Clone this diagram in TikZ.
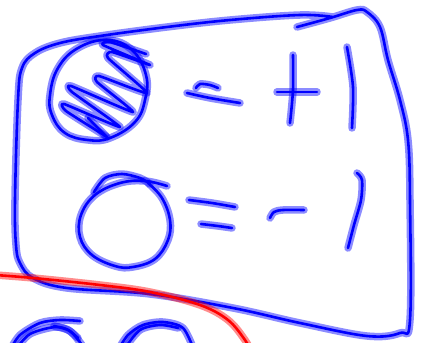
\documentclass[tikz,border=0pt]{standalone}
\begin{document}
\begin{tikzpicture}[x=1pt,y=-1pt,
  pen/.style={draw=blue, line width=2.6pt, line cap=round, line join=round,
    preaction={draw=blue, draw opacity=0.45, line width=7.5pt, line cap=round, line join=round}},
  redpen/.style={draw=red, line width=2.6pt, line cap=round, line join=round,
    preaction={draw=red, draw opacity=0.45, line width=7.5pt, line cap=round, line join=round}}]
\useasboundingbox (0,0) rectangle (421,343);
% main frame
\draw[pen] plot[smooth, tension=0.6] coordinates {
  (333,17) (300,15) (230,20) (167,27) (100,36) (60,43) (35,53) (22,68) (18,100)
  (15,200) (16,245) (20,263) (33,278) (67,288) (150,294) (233,308) (300,323)
  (367,336) (400,333) (410,320) (410,200) (408,140) (400,100) (388,60) (380,27)
  (367,12) (357,10) (330,18) (297,27)};
% hatched circle
\draw[pen] plot[smooth cycle, tension=0.7] coordinates {
  (107,40) (132,50) (146,75) (145,100) (135,122) (110,138) (88,140) (65,133)
  (52,115) (50,95) (58,68) (78,48)};
\draw[pen] plot[smooth, tension=0.3] coordinates {
  (107,137) (66,111) (64,104) (120,127) (72,92) (71,86) (133,112) (97,82)
  (99,76) (147,93) (108,58) (112,52) (150,65) (103,45) (110,42) (146,54)};
\draw[pen] (88,118) -- (106,136);
% = +1
\draw[pen] plot[smooth] coordinates {(196,88) (200,84) (210,85) (218,88)};
\draw[pen] plot[smooth] coordinates {(187,93) (210,98) (240,103)};
\draw[pen] plot[smooth] coordinates {(293,55) (293,90) (290,123)};
\draw[pen] (277,92) -- (317,92);
\draw[pen] plot[smooth] coordinates {(347,47) (353,87) (352,128)};
% lower circle
\draw[pen] plot[smooth, tension=0.65] coordinates {
  (167,186) (145,181) (120,183) (95,195) (81,215) (80,237) (92,255) (115,266)
  (133,267) (155,259) (168,240) (170,220) (162,198) (148,183)};
\draw[pen] plot[smooth] coordinates {(94,192) (105,178) (122,174) (140,178) (150,184)};
% = -1
\draw[pen] plot[smooth] coordinates {(189,200) (212,203) (235,207)};
\draw[pen] plot[smooth] coordinates {(201,224) (218,226) (232,228)};
\draw[pen] plot[smooth] coordinates {(270,218) (274,212) (283,210) (304,210)};
\draw[pen] plot[smooth] coordinates {(357,173) (362,180) (361,200) (354,225) (348,248)};
% red curve
\draw[redpen] plot[smooth, tension=0.6] coordinates {
  (-5,275) (33,278) (100,285) (150,292) (200,305) (228,320) (245,340) (250,350)};
% bottom partial circles
\draw[pen] plot[smooth] coordinates {(10,350) (20,335) (40,323) (60,320) (80,321)};
\draw[pen] plot[smooth] coordinates {(15,350) (30,334) (55,327) (70,331) (82,345)};
\draw[pen] plot[smooth] coordinates {(54,326) (68,330) (78,338)};
\draw[pen] plot[smooth] coordinates {(118,350) (128,335) (143,325) (163,322) (183,328) (194,350)};
\draw[pen] plot[smooth] coordinates {(125,348) (140,330) (160,325) (178,328)};
\end{tikzpicture}
\end{document}
